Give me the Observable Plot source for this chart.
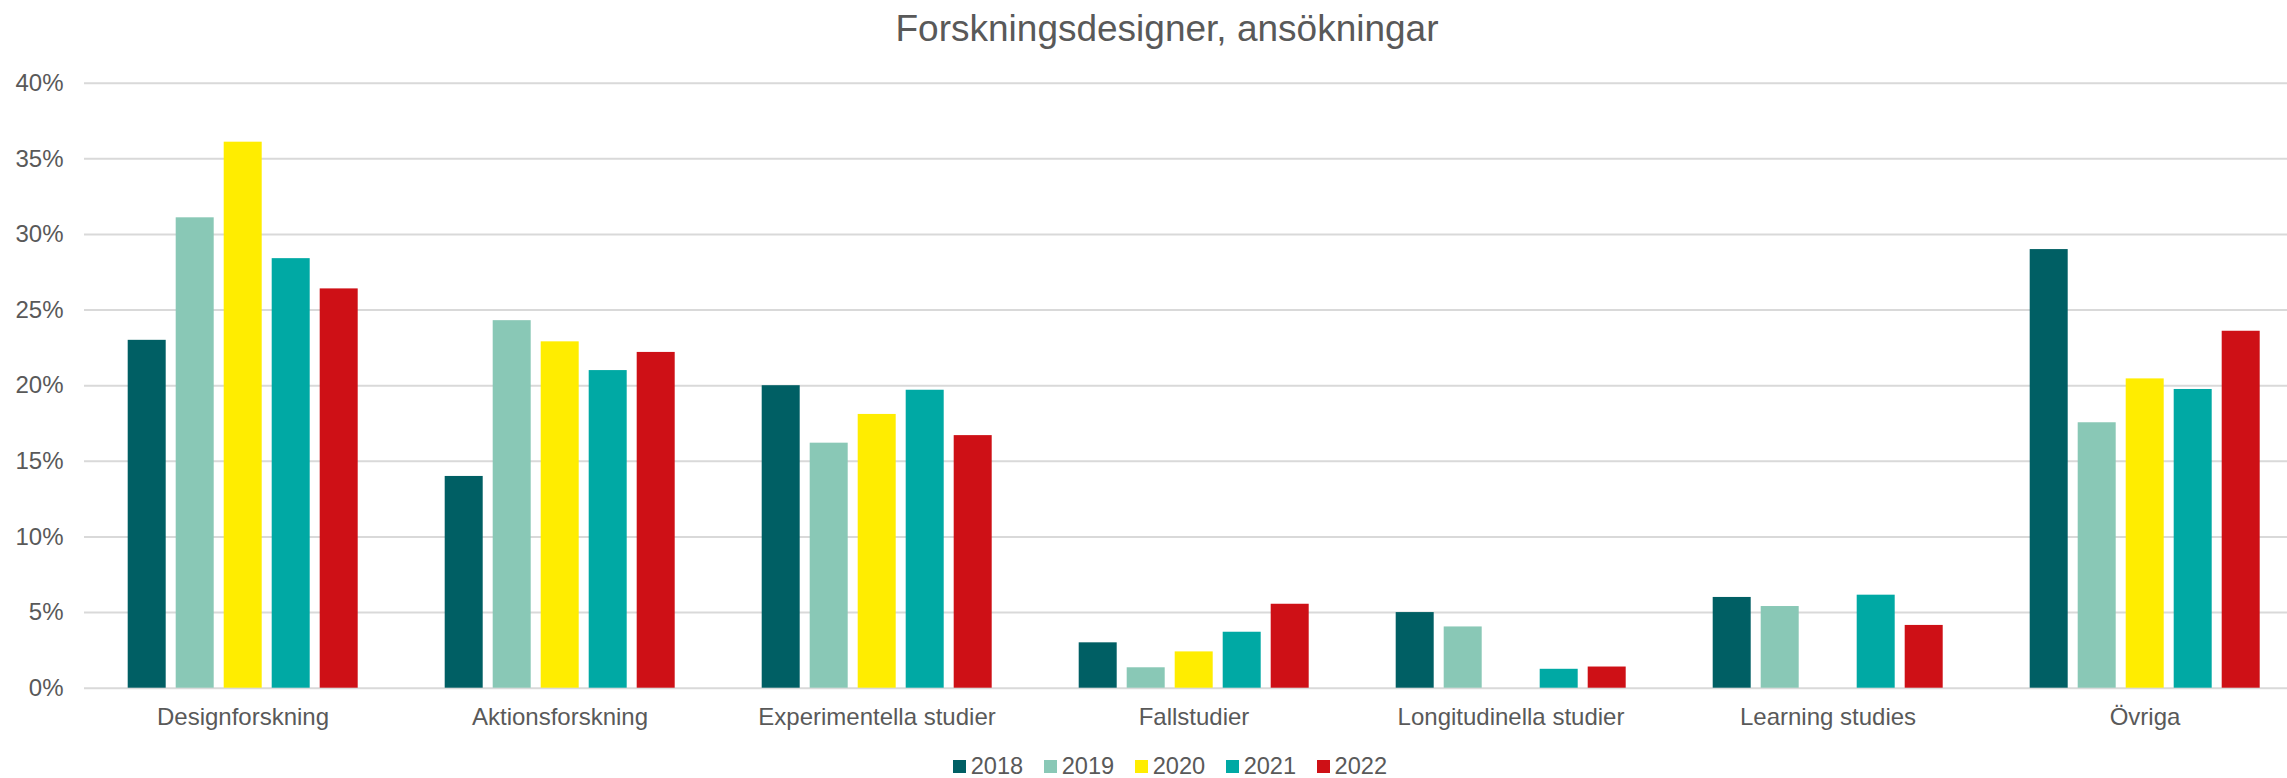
<!DOCTYPE html>
<html>
<head>
<meta charset="utf-8">
<script src="https://cdn.jsdelivr.net/npm/d3@7"></script>
<script src="https://cdn.jsdelivr.net/npm/@observablehq/plot@0.6"></script>
<style>
  html, body { margin: 0; padding: 0; background: #fff; overflow: hidden; }
  #wrap { position: relative; width: 2287px; height: 778px; font-family: "Liberation Sans", Arial, sans-serif; color: #595959; }
  #title { position: absolute; left: 1167px; top: 10.4px; transform: translateX(-50%); font-size: 37px; line-height: 37px; white-space: nowrap; }
  #chart { position: absolute; left: 0; top: 0; }
  #chart svg { overflow: hidden; }
  #legend { position: absolute; left: 952.7px; top: 754.5px; display: flex; align-items: center; font-size: 23.6px; line-height: 1; white-space: nowrap; }
  .item { display: flex; align-items: center; margin-right: 20.5px; }
  .sw { display: inline-block; width: 13.3px; height: 13.3px; margin-right: 4.7px; }
</style>
</head>
<body>
<div id="wrap">
  <div id="chart"></div>
  <div id="title">Forskningsdesigner, ansökningar</div>
  <div id="legend"></div>
</div>
<script>
const titleText = "Forskningsdesigner, ansökningar";
const categories = ["Designforskning", "Aktionsforskning", "Experimentella studier", "Fallstudier", "Longitudinella studier", "Learning studies", "Övriga"];
const years = ["2018", "2019", "2020", "2021", "2022"];
const colors = ["#005F64", "#89C8B6", "#FFED00", "#00A9A4", "#CE1016"];
const values2018 = [23.0, 14.0, 20.0, 3.0, 5.0, 6.0, 29.0];
const values2019 = [31.1, 24.3, 16.2, 1.35, 4.05, 5.4, 17.55];
const values2020 = [36.1, 22.9, 18.1, 2.4, null, null, 20.45];
const values2021 = [28.4, 21.0, 19.7, 3.7, 1.25, 6.15, 19.75];
const values2022 = [26.4, 22.2, 16.7, 5.55, 1.4, 4.15, 23.6];
const yTicks = [0, 5, 10, 15, 20, 25, 30, 35, 40];

const series = [values2018, values2019, values2020, values2021, values2022];
const table = [];
categories.forEach((c, i) => {
  years.forEach((y, j) => {
    const v = series[j][i];
    if (v != null) table.push({category: c, year: y, value: v});
  });
});

const W = 2287, H = 778;
const chart = Plot.plot({
  width: W,
  height: H,
  marginLeft: 83.3,
  marginRight: -16,
  marginTop: 82.7,
  marginBottom: H - 687.7,
  style: {fontFamily: "'Liberation Sans', Arial, sans-serif", fontSize: "24px", color: "#595959", background: "white", overflow: "hidden"},
  fx: {domain: categories, paddingInner: 0, paddingOuter: 0, axis: "bottom", label: null, tickSize: 0, tickPadding: 19.6},
  x: {domain: years, paddingInner: 0.213, paddingOuter: 0.864, axis: null},
  y: {domain: [0, 40], ticks: yTicks, tickFormat: d => d + "%", tickSize: 0, tickPadding: 21, label: null, axis: "left"},
  color: {domain: years, range: colors},
  marks: [
    Plot.gridY(yTicks, {stroke: "#d9d9d9", strokeOpacity: 1, strokeWidth: 2}),
    Plot.barY(table, {fx: "category", x: "year", y: "value", fill: "year"})
  ]
});
document.getElementById("chart").appendChild(chart);

document.getElementById("title").textContent = titleText;
const legend = document.getElementById("legend");
years.forEach((y, i) => {
  const item = document.createElement("div");
  item.className = "item";
  const sw = document.createElement("span");
  sw.className = "sw";
  sw.style.background = colors[i];
  const t = document.createElement("span");
  t.textContent = y;
  item.appendChild(sw);
  item.appendChild(t);
  legend.appendChild(item);
});
</script>
</body>
</html>
